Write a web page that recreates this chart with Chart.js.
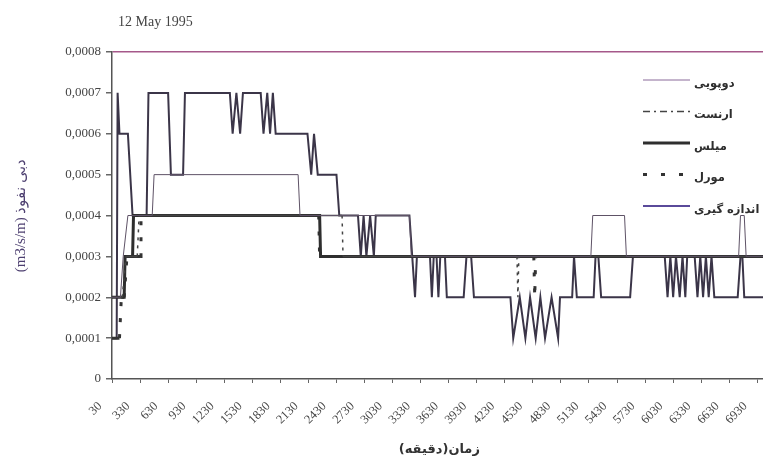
<!DOCTYPE html>
<html lang="en">
<head>
  <meta charset="UTF-8">
  <title>12 May 1995</title>
  <script src="https://cdn.jsdelivr.net/npm/chart.js"></script>
  <style>
    body { margin: 0; background: #fff; overflow: hidden; }
    .wrap { width: 784px; height: 459px; }
  </style>
</head>
<body>
<div class="wrap"><canvas id="chart"></canvas></div>

<script>
  const chartTitle = '12 May 1995';
  const yTitle = '\u202Bدبی نفوذ (m3/s/m)\u202C';
  const xTitle = '\u202Bزمان(دقیقه)\u202C';

  // x tick labels (minutes) and y ticks
  const xTicks = [30, 330, 630, 930, 1230, 1530, 1830, 2130, 2430, 2730, 3030, 3330,
                  3630, 3930, 4230, 4530, 4830, 5130, 5430, 5730, 6030, 6330, 6630, 6930];
  const yTicks = [0, 0.0001, 0.0002, 0.0003, 0.0004, 0.0005, 0.0006, 0.0007, 0.0008];

  const seriesNames = ['دوپویی', 'ارنست', 'میلس', 'مورل', 'اندازه گیری'];

  // [minute, discharge] where the value changes
  const dupuit = [[30, 0.0002], [120, 0.0002], [150, 0.0003], [200, 0.0004], [460, 0.0004], [480, 0.0005],
    [2020, 0.0005], [2040, 0.0004], [3210, 0.0004], [3230, 0.0003], [5150, 0.0003], [5170, 0.0004],
    [5510, 0.0004], [5530, 0.0003], [6730, 0.0003], [6750, 0.0004], [6790, 0.0004], [6810, 0.0003],
    [7030, 0.0003]];

  const ernst = [[30, 0.0002], [140, 0.0002], [180, 0.0003], [300, 0.0003], [320, 0.0004],
    [2490, 0.0004], [2500, 0.0003], [4360, 0.0003], [4370, 0.0002], [4380, 0.0003], [7030, 0.0003]];

  const mills = [[30, 0.0002], [160, 0.0002], [170, 0.0003], [250, 0.0003], [260, 0.0004],
    [2250, 0.0004], [2260, 0.0003], [7030, 0.0003]];

  const morel = [[30, 0.0001], [110, 0.0001], [130, 0.0002], [160, 0.0002], [190, 0.0003], [330, 0.0003],
    [340, 0.0004], [2240, 0.0004], [2250, 0.0003], [4540, 0.0003], [4550, 0.0002], [4560, 0.0003],
    [7030, 0.0003]];

  const measured = [[30, 0.0001], [80, 0.0001], [90, 0.0007], [110, 0.0006], [200, 0.0006], [250, 0.0004],
    [400, 0.0004], [420, 0.0007], [630, 0.0007], [660, 0.0005], [790, 0.0005], [810, 0.0007],
    [1290, 0.0007], [1320, 0.0006], [1360, 0.0007], [1400, 0.0006], [1430, 0.0007], [1620, 0.0007],
    [1650, 0.0006], [1690, 0.0007], [1720, 0.0006], [1750, 0.0007], [1780, 0.0006], [2120, 0.0006],
    [2160, 0.0005], [2190, 0.0006], [2230, 0.0005], [2430, 0.0005], [2460, 0.0004], [2660, 0.0004],
    [2690, 0.0003], [2720, 0.0004], [2750, 0.0003], [2790, 0.0004], [2830, 0.0003], [2850, 0.0004],
    [3210, 0.0004], [3240, 0.0003], [3270, 0.0002], [3290, 0.0003], [3430, 0.0003], [3450, 0.0002],
    [3470, 0.0003], [3500, 0.0003], [3520, 0.0002], [3540, 0.0003], [3590, 0.0003], [3610, 0.0002],
    [3790, 0.0002], [3820, 0.0003], [3870, 0.0003], [3900, 0.0002], [4290, 0.0002], [4320, 0.0001],
    [4390, 0.0002], [4450, 0.0001], [4500, 0.0002], [4560, 0.0001], [4610, 0.0002], [4660, 0.0001],
    [4730, 0.0002], [4800, 0.0001], [4820, 0.0002], [4950, 0.0002], [4970, 0.0003], [4980, 0.0003],
    [5000, 0.0002], [5180, 0.0002], [5200, 0.0003], [5230, 0.0003], [5260, 0.0002], [5570, 0.0002],
    [5600, 0.0003], [5940, 0.0003], [5970, 0.0002], [6000, 0.0003], [6030, 0.0002], [6060, 0.0003],
    [6100, 0.0002], [6130, 0.0003], [6160, 0.0002], [6180, 0.0003], [6260, 0.0003], [6290, 0.0002],
    [6320, 0.0003], [6350, 0.0002], [6380, 0.0003], [6410, 0.0002], [6440, 0.0003], [6470, 0.0002],
    [6720, 0.0002], [6750, 0.0003], [6770, 0.0003], [6790, 0.0002], [7030, 0.0002]];

  const SERIF = "'Liberation Serif', 'DejaVu Serif', serif";
  const FA = "'DejaVu Sans', sans-serif";

  const pts = list => list.map(p => ({ x: p[0], y: p[1] }));
  // excel-like: dashed styles only show on the steep parts
  const flat = ctx => ctx.p0.parsed.y === ctx.p1.parsed.y;

  // legend drawn inside the plot, lines on the left, text on the right
  const sideLegend = {
    id: 'sideLegend',
    afterDraw(chart) {
      const c = chart.ctx;
      chart.data.datasets.forEach((ds, i) => {
        const y = 80 + i * 31.5;
        c.save();
        c.strokeStyle = ds.legendColor || ds.borderColor;
        c.lineWidth = ds.borderWidth;
        c.setLineDash(ds.legendDash || []);
        c.beginPath();
        c.moveTo(643, y);
        c.lineTo(690, y);
        c.stroke();
        c.fillStyle = '#2e2e2e';
        c.font = 'bold 11.5px ' + FA;
        c.textAlign = 'left';
        c.textBaseline = 'middle';
        c.fillText(ds.label, 694, y + 4);
        c.restore();
      });
      c.save();
      c.font = '14px ' + SERIF;
      c.fillStyle = '#444';
      c.textBaseline = 'middle';
      c.fillText(chartTitle, 118, 22);
      c.restore();
    }
  };

  new Chart(document.getElementById('chart'), {
    type: 'line',
    data: {
      datasets: [
        { label: seriesNames[0], data: pts(dupuit), borderColor: '#5e5266', borderWidth: 1,
          legendColor: '#8a6a9a' },
        { label: seriesNames[1], data: pts(ernst), borderColor: '#444', borderWidth: 1.5,
          segment: { borderDash: ctx => flat(ctx) ? [] : [3, 5] }, legendDash: [7, 4, 2, 4] },
        { label: seriesNames[2], data: pts(mills), borderColor: '#2e2e2e', borderWidth: 3 },
        { label: seriesNames[3], data: pts(morel), borderColor: '#333', borderWidth: 3,
          segment: { borderDash: ctx => flat(ctx) ? [] : [4, 12] }, legendDash: [4, 14] },
        { label: seriesNames[4], data: pts(measured), borderColor: '#3b3548', borderWidth: 2,
          legendColor: '#5a4a9a' }
      ]
    },
    options: {
      responsive: true,
      maintainAspectRatio: false,
      animation: false,
      layout: { padding: { top: 52, right: 4, left: 0, bottom: 0 } },
      elements: { point: { radius: 0 }, line: { tension: 0 } },
      plugins: { legend: { display: false }, tooltip: { enabled: false } },
      scales: {
        x: {
          type: 'linear',
          min: 30,
          max: 7030,
          afterBuildTicks: s => { s.ticks = xTicks.map(v => ({ value: v })); },
          afterFit: s => { s.height = 80; },
          ticks: {
            autoSkip: false, minRotation: 45, maxRotation: 45, padding: 16, labelOffset: -12,
            font: { family: SERIF, size: 12.5 }, color: '#444', callback: v => String(v)
          },
          grid: { drawOnChartArea: false, tickLength: 4, color: '#666' },
          border: { color: '#555', width: 1.5 },
          title: { display: true, text: xTitle, color: '#333',
                   font: { family: FA, size: 13, weight: 'bold' }, padding: { top: 0, bottom: 2 } }
        },
        y: {
          min: 0,
          max: 0.0008,
          afterBuildTicks: s => { s.ticks = yTicks.map(v => ({ value: v })); },
          afterFit: s => { s.width = 112; },
          ticks: {
            padding: 5, font: { family: SERIF, size: 13 }, color: '#444',
            callback: v => v === 0 ? '0' : v.toFixed(4).replace('.', ',')
          },
          grid: {
            color: ctx => (ctx.tick && ctx.tick.value === 0.0008) ? '#a5588a' : 'rgba(0,0,0,0)',
            tickColor: '#666', tickLength: 6, lineWidth: 1.5
          },
          border: { color: '#555', width: 1.5 },
          title: { display: true, text: yTitle, color: '#4d3f70',
                   font: { family: SERIF, size: 15 }, padding: { top: 12 } }
        }
      }
    },
    plugins: [sideLegend]
  });
</script>
</body>
</html>
